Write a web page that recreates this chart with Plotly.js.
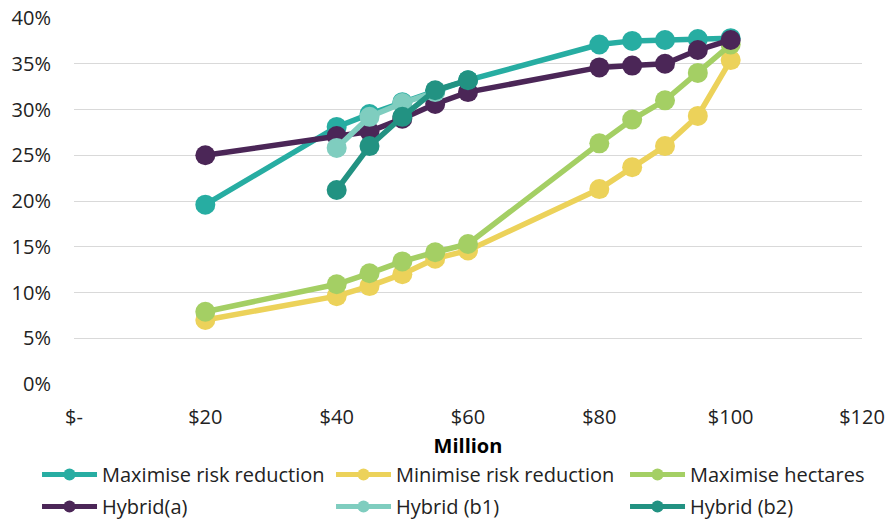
<!DOCTYPE html>
<html>
<head>
<meta charset="utf-8">
<script src="https://cdn.plot.ly/plotly-3.0.1.min.js"></script>
<style>
  html, body { margin: 0; padding: 0; background: #ffffff; }
  #chart { width: 885px; height: 520px; }
</style>
</head>
<body>
<div id="chart"></div>
<script>
// Budget in $ million and the share achieved by each scenario
const budget = [20, 40, 45, 50, 55, 60, 80, 85, 90, 95, 100];
const budgetHybridB = [40, 45, 50, 55, 60];

const maxRiskReduction = [0.196, 0.281, 0.295, 0.308, 0.320, 0.332, 0.371, 0.375, 0.376, 0.377, 0.378];
const minRiskReduction = [0.070, 0.096, 0.107, 0.120, 0.137, 0.146, 0.213, 0.237, 0.260, 0.293, 0.354];
const maxHectares      = [0.079, 0.109, 0.121, 0.134, 0.144, 0.153, 0.263, 0.289, 0.310, 0.340, 0.371];
const hybridA          = [0.250, 0.271, 0.276, 0.290, 0.306, 0.319, 0.346, 0.348, 0.350, 0.365, 0.376];
const hybridB1         = [0.258, 0.292, 0.307, 0.319];
const hybridB2         = [0.212, 0.260, 0.292, 0.321, 0.332];

const seriesNames = ['Maximise risk reduction', 'Minimise risk reduction', 'Maximise hectares',
                     'Hybrid(a)', 'Hybrid (b1)', 'Hybrid (b2)'];
const seriesColors = ['#27ADA2', '#ECD25A', '#A4CF64', '#4B2657', '#7FCDBF', '#229282'];

const xTickVals = [0, 20, 40, 60, 80, 100, 120];
const xTickText = ['$-', '$20', '$40', '$60', '$80', '$100', '$120'];

const seriesX = [budget, budget, budget, budget, budgetHybridB.slice(0, hybridB1.length), budgetHybridB];
const seriesY = [maxRiskReduction, minRiskReduction, maxHectares, hybridA, hybridB1, hybridB2];

// one legend group per series so rows can be spaced with tracegroupgap
const traces = seriesNames.map((name, i) => ({
  type: 'scatter',
  mode: 'lines+markers',
  name: name,
  legendgroup: 'g' + i,
  x: seriesX[i],
  y: seriesY[i],
  line: { color: seriesColors[i], width: 5.5 },
  marker: { color: seriesColors[i], size: 20 },
  hoverinfo: 'x+y+name'
}));

const fontFamily = '"Open Sans", "Noto Sans", sans-serif';

// plot area spans 74..862 px; the right margin is zero and the axis domain
// stops short of the edge so the legend may use the full page width
const layout = {
  width: 885,
  height: 520,
  margin: { l: 74, r: 0, t: 18, b: 136, autoexpand: false },
  paper_bgcolor: '#ffffff',
  plot_bgcolor: '#ffffff',
  font: { family: fontFamily, size: 20, color: '#222222' },
  showlegend: true,
  xaxis: {
    domain: [0, 788 / 811],
    range: [0, 120],
    tickvals: xTickVals,
    ticktext: xTickText,
    showgrid: false,
    zeroline: false,
    showline: false,
    ticks: '',
    ticklabelstandoff: 19,
    title: { text: 'Million', font: { family: fontFamily, size: 20, color: '#000000', weight: 'bold' }, standoff: 9 }
  },
  yaxis: {
    range: [0, 0.4],
    dtick: 0.05,
    tickformat: '.0%',
    showgrid: true,
    gridcolor: '#D9D9D9',
    gridwidth: 1,
    zeroline: false,
    showline: false,
    ticks: '',
    ticklabelstandoff: 22
  },
  legend: {
    orientation: 'h',
    x: -0.0456,
    xanchor: 'left',
    y: -0.194,
    yanchor: 'top',
    entrywidth: 224,
    entrywidthmode: 'pixels',
    itemwidth: 55,
    itemsizing: 'constant',
    tracegroupgap: 3,
    font: { family: fontFamily, size: 20, color: '#222222' }
  }
};

Plotly.newPlot('chart', traces, layout, { displayModeBar: false, staticPlot: true });
</script>
</body>
</html>
